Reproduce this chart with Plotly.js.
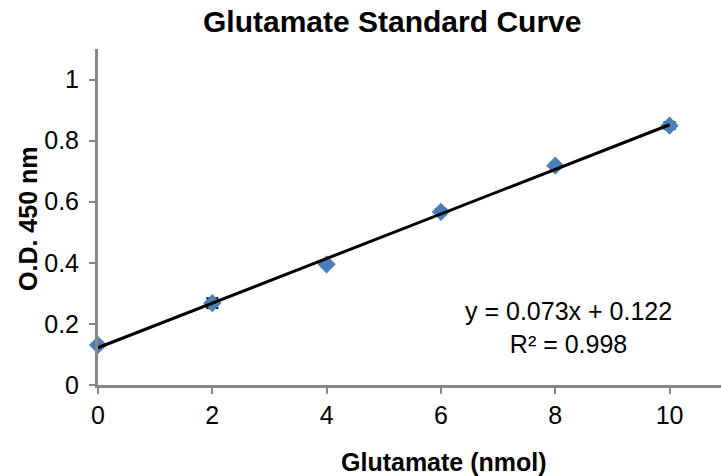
<!DOCTYPE html>
<html>
<head>
<meta charset="utf-8">
<script src="https://cdn.plot.ly/plotly-3.0.1.min.js"></script>
<style>html,body{margin:0;padding:0;background:#fff;}#chart{width:721px;height:476px;}</style>
</head>
<body>
<div id="chart"></div>
<script>
const amounts = [0, 2, 4, 6, 8, 10];
const odValues = [0.131, 0.268, 0.395, 0.567, 0.718, 0.849];
const odErrors = [0.004, 0.016, 0.006, 0.008, 0.006, 0.011];
const slope = 0.073;
const intercept = 0.122;
const fitX = [0, 10];
const xTicks = [0, 2, 4, 6, 8, 10];
const yTicks = [0, 0.2, 0.4, 0.6, 0.8, 1];
const eqText = "y = 0.073x + 0.122<br>R² = 0.998";
const xTitle = "<b>Glutamate (nmol)</b>";
const yTitle = "<b>O.D. 450 nm</b>";

const fitY = fitX.map(x => slope * x + intercept);

const traces = [
  {
    x: amounts, y: odValues, type: 'scatter', mode: 'markers', cliponaxis: false,
    marker: {symbol: 'diamond', size: 14, color: '#4a7ebb'},
    error_y: {type: 'data', array: odErrors, visible: true, color: '#000', thickness: 2, width: 6},
    showlegend: false, hoverinfo: 'skip'
  },
  {
    x: fitX, y: fitY, type: 'scatter', mode: 'lines', cliponaxis: false,
    line: {color: '#000', width: 3},
    showlegend: false, hoverinfo: 'skip'
  }
];

const layout = {
  width: 721, height: 476,
  margin: {l: 98, r: 0, t: 49, b: 91},
  paper_bgcolor: '#fff', plot_bgcolor: '#fff',
  font: {family: 'Liberation Sans, Arial, sans-serif', color: '#000'},
  title: {text: '<b>Glutamate Standard Curve</b>', font: {size: 30, color: '#000'},
          x: 0.544, xref: 'container', y: 0.955, yref: 'container', xanchor: 'center', yanchor: 'middle'},
  xaxis: {
    range: [0, 10.9], tickvals: xTicks, ticktext: xTicks.map(String),
    showgrid: false, zeroline: false, showline: true, linecolor: '#868686', linewidth: 3,
    ticks: 'outside', ticklen: 6, tickwidth: 2, tickcolor: '#868686',
    tickfont: {size: 25, color: '#000'}
  },
  yaxis: {
    range: [0, 1.1], tickvals: yTicks, ticktext: yTicks.map(String),
    showgrid: false, zeroline: false, showline: true, linecolor: '#868686', linewidth: 3,
    ticks: 'outside', ticklen: 6, tickwidth: 2, tickcolor: '#868686',
    ticklabelstandoff: 5,
    tickfont: {size: 25, color: '#000'}
  },
  annotations: [
    {
      x: 8.24, y: 0.187, xref: 'x', yref: 'y', text: eqText, showarrow: false,
      font: {size: 25, color: '#000'}, align: 'center', xanchor: 'center', yanchor: 'middle'
    },
    {
      x: 444, y: 476 - 462, xref: 'paper', yref: 'paper', text: xTitle, showarrow: false,
      font: {size: 25, color: '#000'}, xanchor: 'center', yanchor: 'middle'
    },
    {
      x: 28, y: 476 - 219, xref: 'paper', yref: 'paper', text: yTitle, showarrow: false, textangle: -90,
      font: {size: 25, color: '#000'}, xanchor: 'center', yanchor: 'middle'
    }
  ]
};

// convert pixel positions of axis-title annotations to paper fractions
const plotW = 721 - 98, plotH = 476 - 49 - 91;
layout.annotations[1].x = (444 - 98) / plotW;
layout.annotations[1].y = (476 - 91 - 462) / plotH;
layout.annotations[2].x = (28 - 98) / plotW;
layout.annotations[2].y = (476 - 91 - 219) / plotH;

Plotly.newPlot('chart', traces, layout, {displayModeBar: false, staticPlot: true});
</script>
</body>
</html>
